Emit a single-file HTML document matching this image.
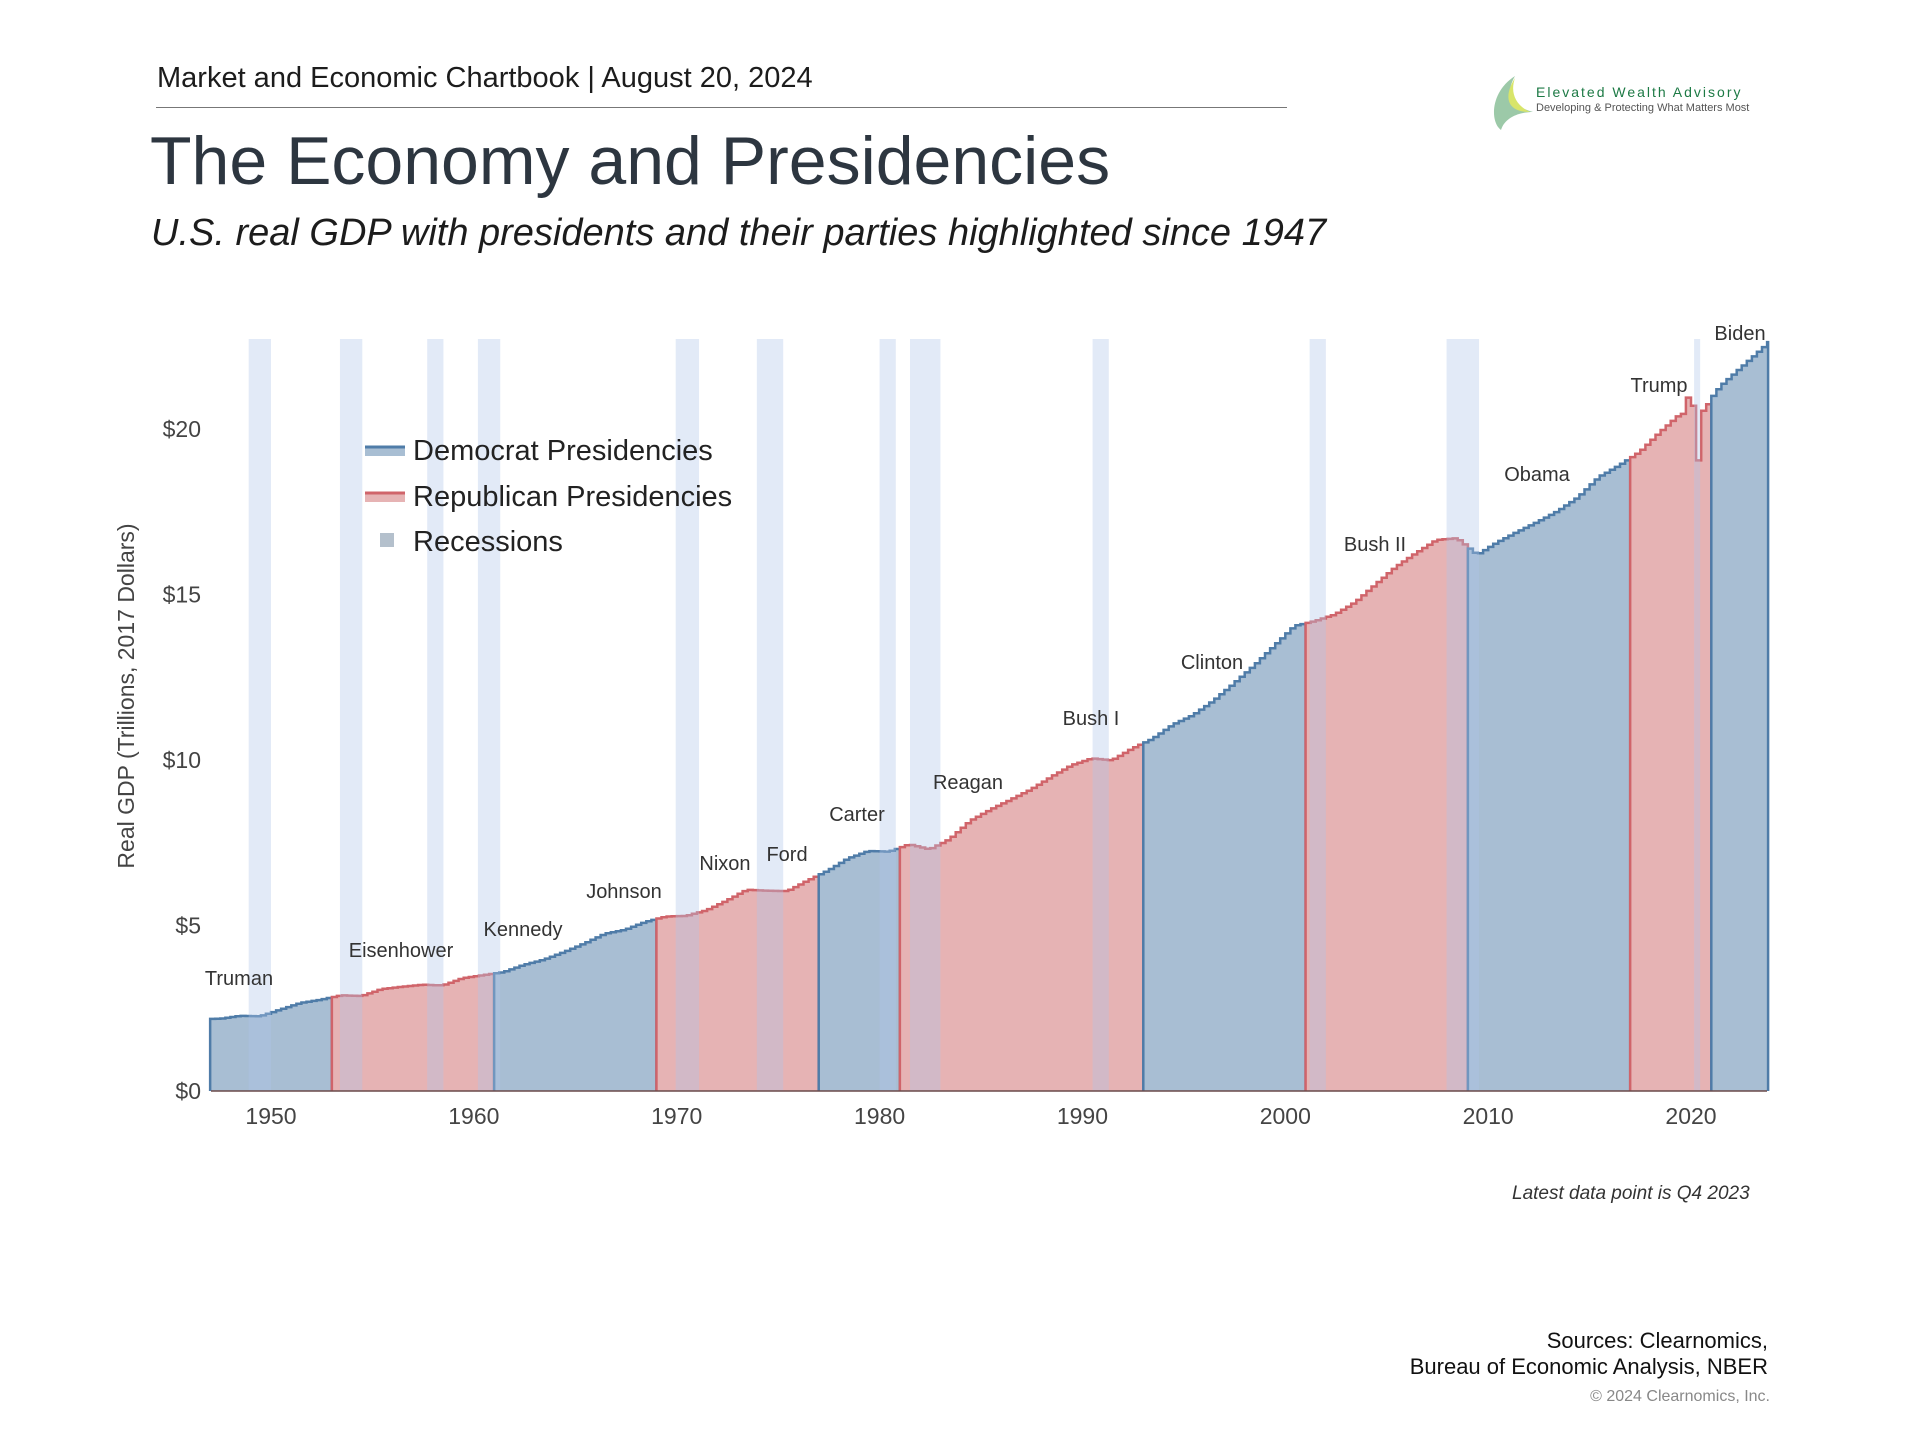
<!DOCTYPE html>
<html><head><meta charset="utf-8">
<style>
body{margin:0;width:1920px;height:1440px;background:#fff;font-family:"Liberation Sans",sans-serif;position:relative;overflow:hidden;color:#222}
.a{position:absolute;white-space:nowrap}
</style></head><body>
<div class="a" style="left:157px;top:62px;font-size:29px;color:#1c1c1c">Market and Economic Chartbook | August 20, 2024</div>
<div class="a" style="left:156px;top:107px;width:1131px;height:1px;background:#777"></div>
<div class="a" style="left:150px;top:122px;font-size:68px;color:#2d3640">The Economy and Presidencies</div>
<div class="a" style="left:151px;top:212px;font-size:38px;font-style:italic;color:#1c1c1c">U.S. real GDP with presidents and their parties highlighted since 1947</div>
<svg class="a" style="left:1485px;top:72px" width="60" height="62"><path d="M30 4 C5 20 5 50 16 58 C20 45 35 40 48 40 C30 35 18 25 30 4Z" fill="#9cc9a8"/><path d="M30 6 C18 25 22 40 45 40 C30 33 25 20 30 6Z" fill="#d8e56a"/></svg>
<div class="a" style="left:1536px;top:84px;font-size:14px;letter-spacing:2px;color:#1d7a45">Elevated Wealth Advisory</div>
<div class="a" style="left:1536px;top:102px;font-size:11px;color:#555">Developing &amp; Protecting What Matters Most</div>
<svg id="c" class="a" style="left:0;top:0" width="1920" height="1440"></svg>
<div class="a" style="left:1512px;top:1183px;font-size:19px;font-style:italic;color:#333">Latest data point is Q4 2023</div>
<div class="a" style="right:152px;top:1328px;font-size:22px;text-align:right;line-height:26px;color:#111">Sources: Clearnomics,<br>Bureau of Economic Analysis, NBER</div>
<div class="a" style="right:150px;top:1388px;font-size:16px;color:#888">© 2024 Clearnomics, Inc.</div>
<script>
const A={1947:2.18,1948:2.27,1949:2.26,1950:2.46,1951:2.66,1952:2.76,1953:2.89,1954:2.87,1955:3.08,1956:3.15,1957:3.21,1958:3.19,1959:3.41,1960:3.50,1961:3.59,1962:3.81,1963:3.97,1964:4.20,1965:4.46,1966:4.75,1967:4.87,1968:5.11,1969:5.27,1970:5.29,1971:5.46,1972:5.75,1973:6.08,1974:6.05,1975:6.04,1976:6.36,1977:6.66,1978:7.03,1979:7.25,1980:7.23,1981:7.45,1982:7.30,1983:7.61,1984:8.16,1985:8.50,1986:8.80,1987:9.11,1988:9.49,1989:9.84,1990:10.05,1991:9.99,1992:10.35,1993:10.64,1994:11.07,1995:11.36,1996:11.79,1997:12.31,1998:12.85,1999:13.45,2000:14.05,2001:14.20,2002:14.40,2003:14.77,2004:15.31,2005:15.84,2006:16.26,2007:16.65,2008:16.70,2009:16.20,2010:16.58,2011:16.90,2012:17.20,2013:17.53,2014:17.95,2015:18.55,2016:18.90,2017:19.30,2018:19.90,2019:20.45,2020:20.5,2021:21.3,2022:21.85,2023:22.4};
const X=t=>271+(t-1950)*20.286, Y=v=>1091-v*33.1;
function val(t){let y=Math.floor(t-0.5),f=t-0.5-y;if(y<1947)return A[1947];if(y>=2023)return A[2023]+(f)*0.6;return A[y]+(A[y+1]-A[y])*f;}
const Q=[];for(let i=0;i<308;i++){let t=1947+i/4;let v=val(t+0.125);
 if(t==2019.75)v=20.95;if(t==2020)v=20.7;if(t==2020.25)v=19.05;if(t==2020.5)v=20.55;if(t==2020.75)v=20.75;Q.push([t,v]);}
const ns="http://www.w3.org/2000/svg",svg=document.getElementById('c');
function el(n,a,txt){const e=document.createElementNS(ns,n);for(const k in a)e.setAttribute(k,a[k]);if(txt)e.textContent=txt;svg.appendChild(e);return e;}
const P=[[1947,1953,'D'],[1953,1961,'R'],[1961,1969,'D'],[1969,1977,'R'],[1977,1981,'D'],[1981,1993,'R'],[1993,2001,'D'],[2001,2009,'R'],[2009,2017,'D'],[2017,2021,'R'],[2021,2023.8,'D']];
const C={D:['#a8bed3','#4f7ca8'],R:['#e6b3b4','#d0646a']};
for(const [s,e,p] of P){const q=Q.filter(a=>a[0]>=s&&a[0]<e);let d=`M${X(s)},${Y(0)} V${Y(q[0][1])}`;
 for(let i=0;i<q.length;i++){const t2=i+1<q.length?q[i+1][0]:e;d+=` H${X(t2).toFixed(1)}`;if(i+1<q.length)d+=` V${Y(q[i+1][1]).toFixed(1)}`;}
 el('path',{d:d+` V${Y(0)} Z`,fill:C[p][0],stroke:'none'});
 el('path',{d:d+` V${Y(0)}`,fill:'none',stroke:C[p][1],'stroke-width':2.5});}
const R=[[1948.9,1950.0],[1953.4,1954.5],[1957.7,1958.5],[1960.2,1961.3],[1969.95,1971.1],[1973.95,1975.25],[1980.0,1980.8],[1981.5,1983.0],[1990.5,1991.3],[2001.2,2002.0],[2007.95,2009.55],[2020.15,2020.45]];
for(const [a,b] of R)el('rect',{x:X(a),y:339,width:X(b)-X(a),height:Y(0)-339,fill:'rgba(176,198,232,0.36)'});
el('line',{x1:211,x2:1767,y1:1091,y2:1091,stroke:'#6a4a4a','stroke-width':1.5});
for(let v=0;v<=20;v+=5)el('text',{x:201,y:Y(v)+8,'text-anchor':'end','font-size':23,fill:'#444'},'$'+v);
for(let y=1950;y<=2020;y+=10)el('text',{x:X(y),y:1124,'text-anchor':'middle','font-size':23,fill:'#444'},y);
el('text',{x:134,y:696,'text-anchor':'middle','font-size':23,fill:'#444',transform:'rotate(-90 134 696)'},'Real GDP (Trillions, 2017 Dollars)');
const L=[['Truman',239,978],['Eisenhower',401,950],['Kennedy',523,929],['Johnson',624,891],['Nixon',725,863],['Ford',787,854],['Carter',857,814],['Reagan',968,782],['Bush I',1091,718],['Clinton',1212,662],['Bush II',1375,544],['Obama',1537,474],['Trump',1659,385],['Biden',1740,333]];
for(const [n,x,y] of L)el('text',{x,y:y+7,'text-anchor':'middle','font-size':20,fill:'#333'},n);
el('rect',{x:365,y:446,width:40,height:10,fill:'#a8bed3'});el('line',{x1:365,x2:405,y1:447,y2:447,stroke:'#4f7ca8','stroke-width':3});
el('rect',{x:365,y:492,width:40,height:10,fill:'#e6b3b4'});el('line',{x1:365,x2:405,y1:493,y2:493,stroke:'#d0646a','stroke-width':3});
el('rect',{x:380,y:533,width:14,height:14,fill:'#b4c0cc'});
el('text',{x:413,y:460,'font-size':29,fill:'#222'},'Democrat Presidencies');
el('text',{x:413,y:506,'font-size':29,fill:'#222'},'Republican Presidencies');
el('text',{x:413,y:551,'font-size':29,fill:'#222'},'Recessions');
</script>
</body></html>
